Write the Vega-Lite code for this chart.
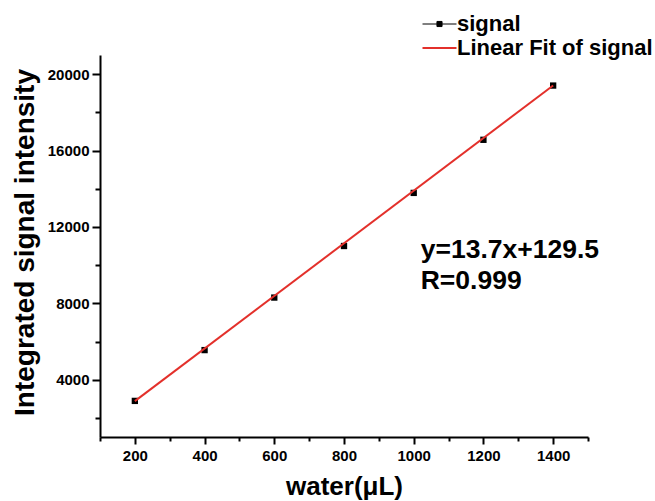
{
  "$schema": "https://vega.github.io/schema/vega-lite/v6.json",
  "width": 488,
  "height": 382,
  "autosize": "none",
  "padding": {"left": 100, "top": 55, "right": 67, "bottom": 64},
  "background": "white",
  "config": {
    "view": {"stroke": null},
    "font": "Liberation Sans",
    "axis": {
      "domainColor": "black",
      "domainWidth": 2,
      "tickColor": "black",
      "tickWidth": 2,
      "labelColor": "black",
      "labelFont": "Liberation Sans",
      "labelFontWeight": "bold",
      "labelFontSize": 15,
      "titleColor": "black",
      "titleFont": "Liberation Sans",
      "titleFontWeight": "bold",
      "grid": false
    },
    "legend": {
      "orient": "none",
      "title": null,
      "padding": 0,
      "labelFont": "Liberation Sans",
      "labelFontWeight": "bold",
      "labelFontSize": 22,
      "labelColor": "black",
      "labelLimit": 400,
      "labelOffset": 15,
      "symbolSize": 289,
      "symbolOpacity": 1
    }
  },
  "resolve": {"axis": {"x": "independent"}},
  "layer": [
    {
      "data": {
        "values": [
          {"water": 200, "intensity": 2890, "series": "signal"},
          {"water": 400, "intensity": 5550, "series": "signal"},
          {"water": 600, "intensity": 8300, "series": "signal"},
          {"water": 800, "intensity": 11000, "series": "signal"},
          {"water": 1000, "intensity": 13780, "series": "signal"},
          {"water": 1200, "intensity": 16560, "series": "signal"},
          {"water": 1400, "intensity": 19400, "series": "signal"}
        ]
      },
      "mark": {"type": "point", "shape": "square", "filled": true, "size": 40, "opacity": 1},
      "encoding": {
        "x": {
          "field": "water", "type": "quantitative",
          "scale": {"domain": [100, 1500], "nice": false, "zero": false},
          "axis": {
            "orient": "bottom",
            "title": "water(μL)",
            "titleFontSize": 26,
            "titlePadding": 10,
            "labelOverlap": false,
            "labelFlush": false,
            "values": [200, 400, 600, 800, 1000, 1200, 1400],
            "format": "d",
            "tickSize": 7,
            "labelPadding": 4
          }
        },
        "y": {
          "field": "intensity", "type": "quantitative",
          "scale": {"domain": [1000, 21000], "nice": false, "zero": false},
          "axis": {
            "title": "Integrated signal intensity",
            "titleFontSize": 28,
            "titlePadding": 8,
            "titleY": 187,
            "labelOverlap": false,
            "values": [2000, 4000, 6000, 8000, 10000, 12000, 14000, 16000, 18000, 20000],
            "labelExpr": "datum.value % 4000 === 0 ? datum.label : ''",
            "format": "d",
            "tickSize": {"condition": {"test": "datum.value % 4000 === 0", "value": 8}, "value": 5},
            "labelPadding": 3
          }
        },
        "fill": {
          "field": "series", "type": "nominal",
          "scale": {"domain": ["signal"], "range": ["#000000"]},
          "legend": {
            "legendX": 320,
            "legendY": -42,
            "symbolType": "M-1,0H0.7M1.3,0H3M0.7,-0.3H1.3V0.3H0.7Z",
            "symbolStrokeColor": "#000000",
            "symbolFillColor": "#000000",
            "symbolStrokeWidth": 1
          }
        }
      }
    },
    {
      "data": {
        "values": [
          {"water": 200, "intensity": 2880, "series": "Linear Fit of signal"},
          {"water": 1400, "intensity": 19400, "series": "Linear Fit of signal"}
        ]
      },
      "mark": {"type": "line", "strokeWidth": 2},
      "encoding": {
        "x": {"field": "water", "type": "quantitative", "axis": null},
        "y": {"field": "intensity", "type": "quantitative"},
        "stroke": {
          "field": "series", "type": "nominal",
          "scale": {"domain": ["Linear Fit of signal"], "range": ["#e3302b"]},
          "legend": {
            "legendX": 320,
            "legendY": -18,
            "symbolType": "M-1,0H3",
            "symbolStrokeWidth": 2
          }
        }
      }
    },
    {
      "data": {
        "values": [
          {"water": 1020, "intensity": 10790, "label": "y=13.7x+129.5"},
          {"water": 1020, "intensity": 9170, "label": "R=0.999"}
        ]
      },
      "mark": {"type": "text", "align": "left", "baseline": "middle", "fontSize": 26.5, "fontWeight": "bold", "font": "Liberation Sans", "color": "black"},
      "encoding": {
        "x": {
          "field": "water", "type": "quantitative",
          "axis": {
            "orient": "bottom",
            "title": null,
            "labels": false,
            "domain": false,
            "values": [100, 300, 500, 700, 900, 1100, 1300, 1500],
            "tickSize": 4
          }
        },
        "y": {"field": "intensity", "type": "quantitative"},
        "text": {"field": "label"}
      }
    }
  ]
}
